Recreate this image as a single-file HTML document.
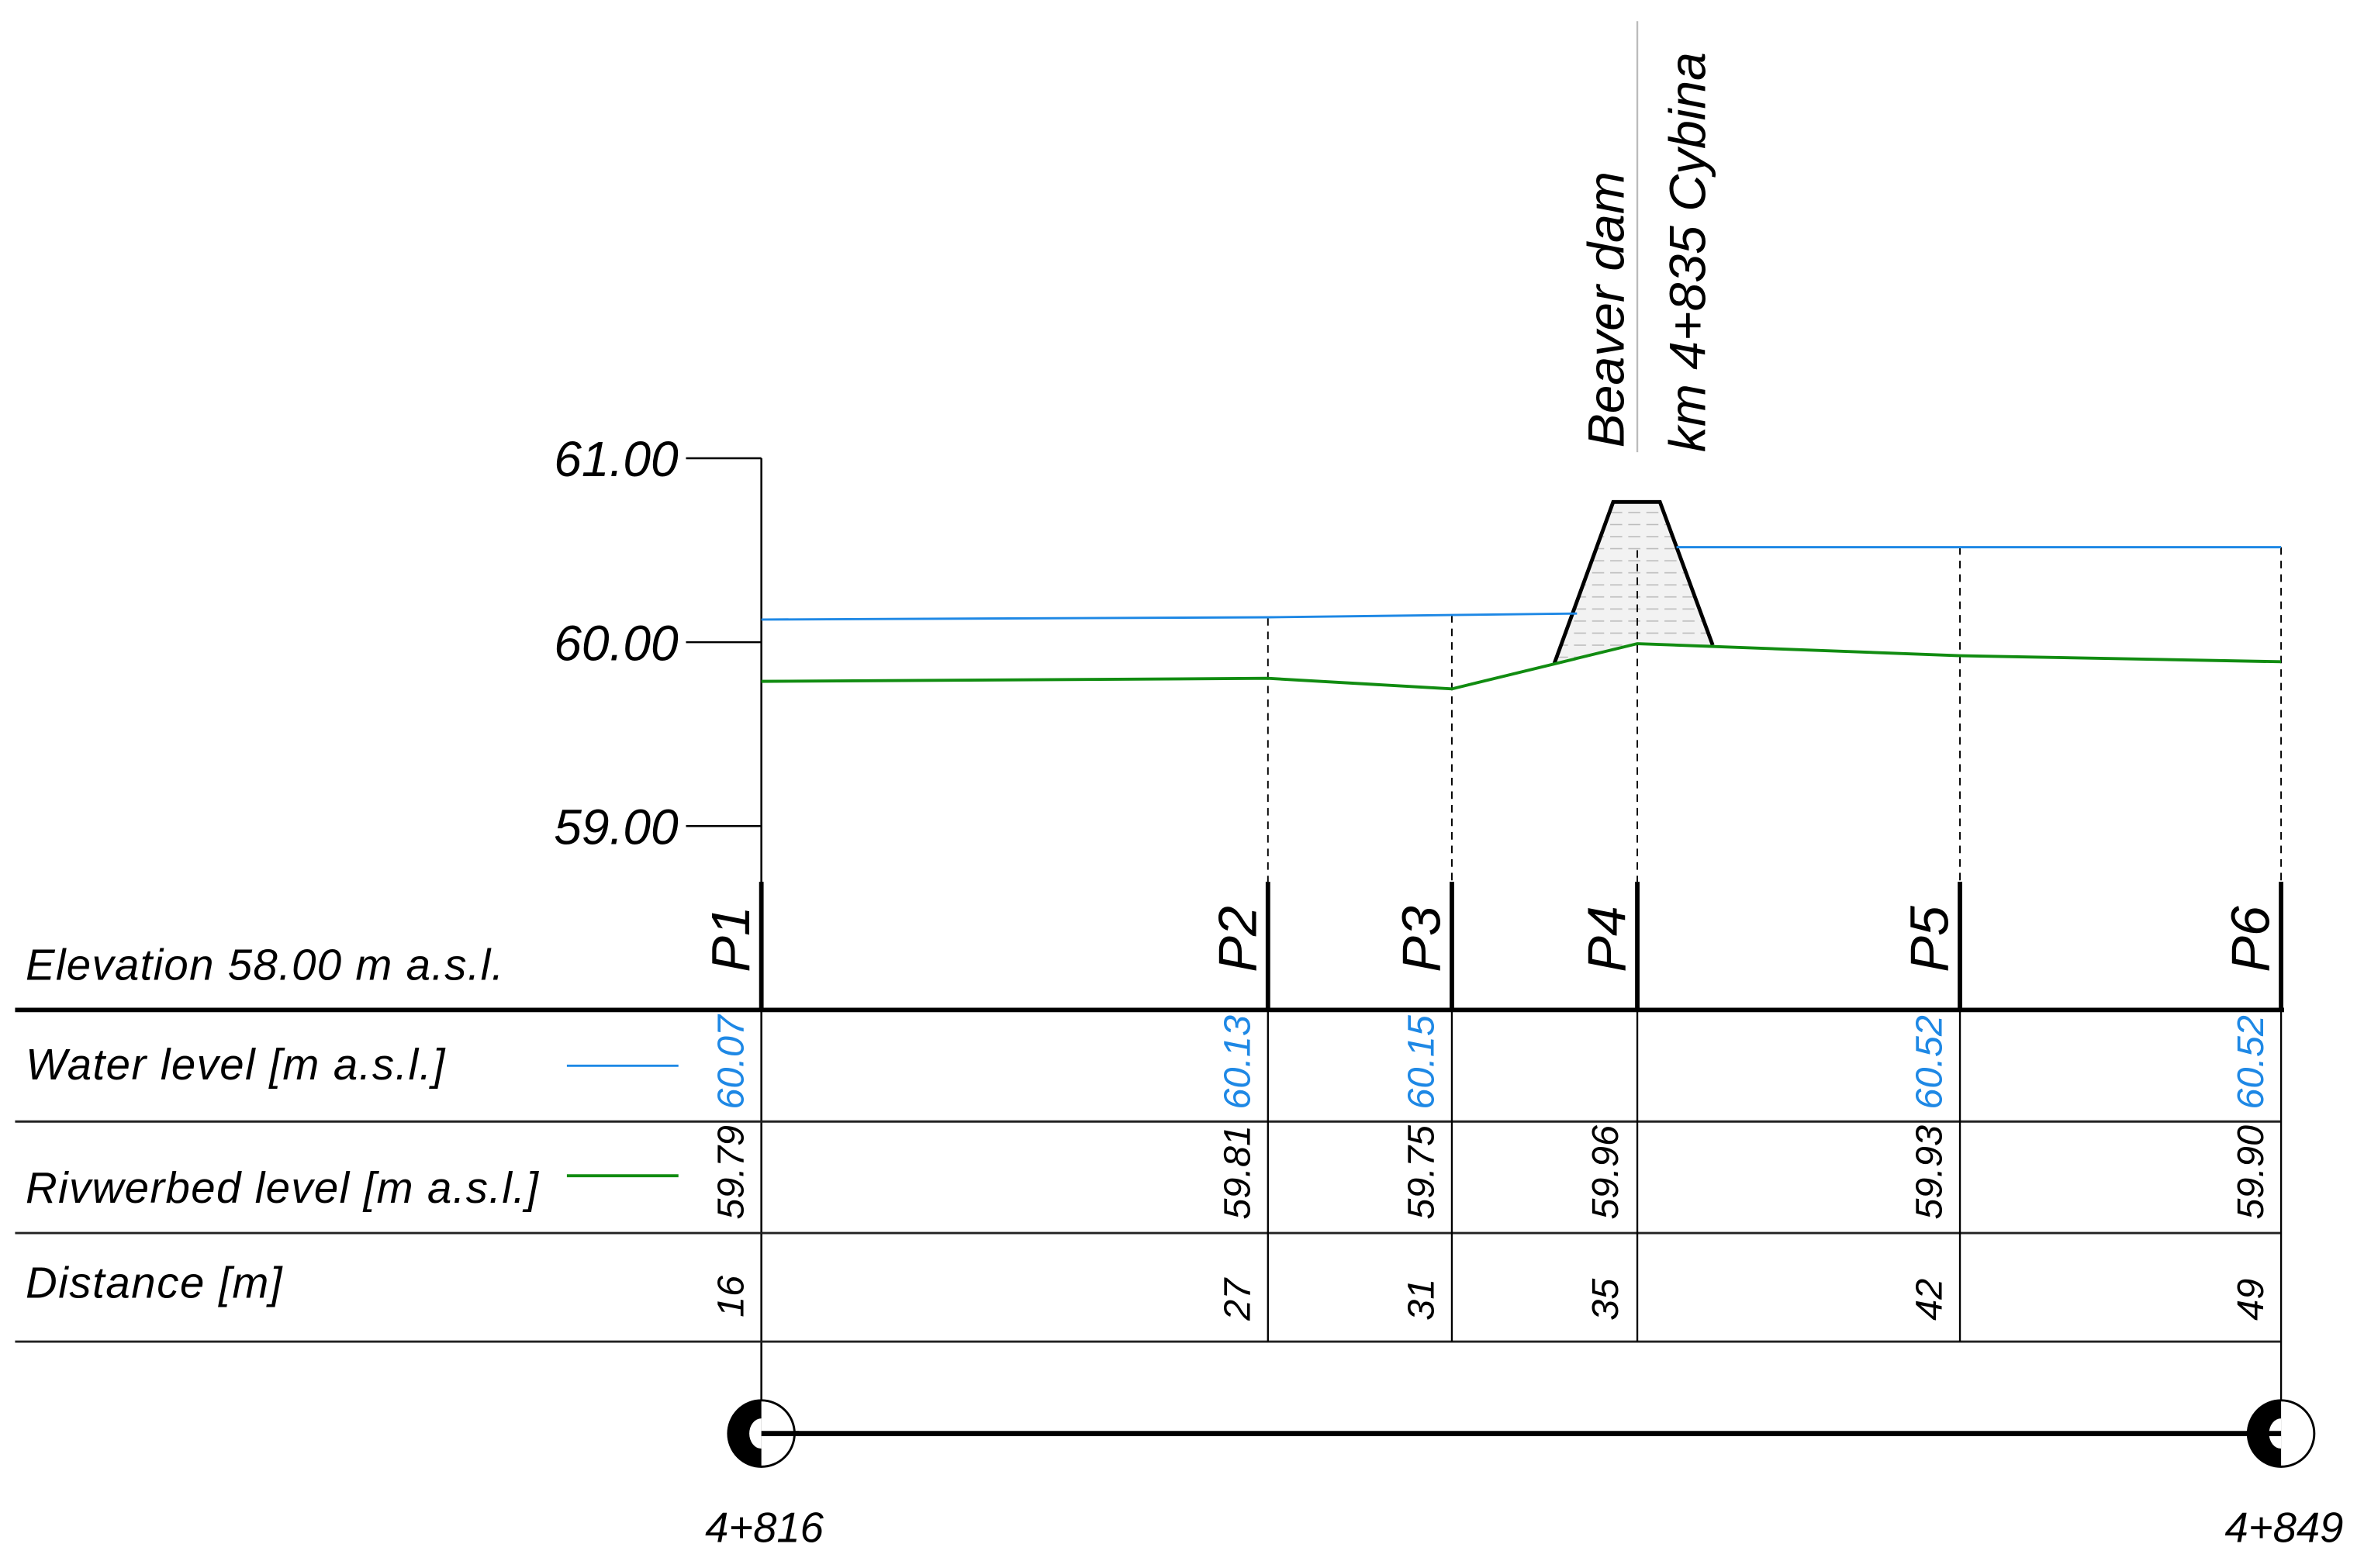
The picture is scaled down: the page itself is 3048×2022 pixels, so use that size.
<!DOCTYPE html>
<html><head><meta charset="utf-8"><style>
html,body{margin:0;padding:0;background:#fff;}
svg{display:block;}
text{font-family:"Liberation Sans",Arial,sans-serif;font-style:italic;}
</style></head><body>
<svg width="3048" height="2022" viewBox="0 0 1568 1040.2" preserveAspectRatio="none" xmlns="http://www.w3.org/2000/svg">
<defs>
<pattern id="hatch" width="12" height="8" patternUnits="userSpaceOnUse">
<rect width="12" height="8" fill="#f2f2f2"/>
<line x1="0" y1="4" x2="8" y2="4" stroke="#bbb" stroke-width="0.8"/>
</pattern>
</defs>
<rect width="1568" height="1040.2" fill="#fff"/>
<g stroke="#000" stroke-width="1.3">
<line x1="455" y1="304" x2="505" y2="304"/>
<line x1="455" y1="426" x2="505" y2="426"/>
<line x1="455" y1="548" x2="505" y2="548"/>
<line x1="505" y1="304" x2="505" y2="950"/>
</g>
<text x="450" y="316" font-size="33" text-anchor="end">61.00</text>
<text x="450" y="438" font-size="33" text-anchor="end">60.00</text>
<text x="450" y="560" font-size="33" text-anchor="end">59.00</text>
<line x1="1086" y1="14" x2="1086" y2="300" stroke="#bbb" stroke-width="1.2"/>
<text transform="translate(1077,297) rotate(-90)" font-size="34">Beaver dam</text>
<text transform="translate(1131,300) rotate(-90)" font-size="34">km 4+835 Cybina</text>
<polygon points="1031,440 1070,333 1101,333 1136,428 1086,427" fill="url(#hatch)" stroke="none"/>
<polyline points="1031,440 1070,333 1101,333 1136,428" fill="none" stroke="#000" stroke-width="2.5"/>
<g stroke="#000" stroke-width="1" stroke-dasharray="5,4">
<line x1="841" y1="410" x2="841" y2="585"/>
<line x1="963" y1="408" x2="963" y2="585"/>
<line x1="1086" y1="365" x2="1086" y2="585"/>
<line x1="1300" y1="363" x2="1300" y2="585"/>
<line x1="1513" y1="363" x2="1513" y2="585"/>
</g>
<polyline points="505,411 841,409.5 963,408 1046,407" fill="none" stroke="#1e88e5" stroke-width="1.5"/>
<polyline points="1112,363 1513,363" fill="none" stroke="#1e88e5" stroke-width="1.5"/>
<polyline points="505,452 841,450 963,457 1086,427 1300,435 1513,439" fill="none" stroke="#118c11" stroke-width="2"/>
<g stroke="#000" stroke-width="3">
<line x1="505" y1="585" x2="505" y2="670"/>
<line x1="841" y1="585" x2="841" y2="670"/>
<line x1="963" y1="585" x2="963" y2="670"/>
<line x1="1086" y1="585" x2="1086" y2="670"/>
<line x1="1300" y1="585" x2="1300" y2="670"/>
<line x1="1513" y1="585" x2="1513" y2="670"/>
<line x1="10" y1="670" x2="1515" y2="670"/>
</g>
<g stroke="#222" stroke-width="1.5">
<line x1="10" y1="744" x2="1513" y2="744"/>
<line x1="10" y1="818" x2="1513" y2="818"/>
<line x1="10" y1="890" x2="1513" y2="890"/>
</g>
<g stroke="#000" stroke-width="1.2">
<line x1="841" y1="670" x2="841" y2="890"/>
<line x1="963" y1="670" x2="963" y2="890"/>
<line x1="1086" y1="670" x2="1086" y2="890"/>
<line x1="1300" y1="670" x2="1300" y2="890"/>
<line x1="1513" y1="670" x2="1513" y2="950"/>
</g>
<text x="17" y="650" font-size="29" textLength="317">Elevation 58.00 m a.s.l.</text>
<text x="17" y="716" font-size="29" textLength="278">Water level [m a.s.l.]</text>
<text x="17" y="798" font-size="29" textLength="340">Rivwerbed level [m a.s.l.]</text>
<text x="17" y="861" font-size="29" textLength="170">Distance [m]</text>
<line x1="376" y1="707" x2="450" y2="707" stroke="#1e88e5" stroke-width="1.5"/>
<line x1="376" y1="780" x2="450" y2="780" stroke="#118c11" stroke-width="2"/>
<g font-size="36">
<text transform="translate(497,645) rotate(-90)">P1</text>
<text transform="translate(833,645) rotate(-90)">P2</text>
<text transform="translate(955,645) rotate(-90)">P3</text>
<text transform="translate(1078,645) rotate(-90)">P4</text>
<text transform="translate(1292,645) rotate(-90)">P5</text>
<text transform="translate(1505,645) rotate(-90)">P6</text>
</g>
<g font-size="25" fill="#1e88e5">
<text transform="translate(493,736) rotate(-90)">60.07</text>
<text transform="translate(829,736) rotate(-90)">60.13</text>
<text transform="translate(951,736) rotate(-90)">60.15</text>
<text transform="translate(1288,736) rotate(-90)">60.52</text>
<text transform="translate(1501,736) rotate(-90)">60.52</text>
</g>
<g font-size="25" fill="#000">
<text transform="translate(493,809) rotate(-90)">59.79</text>
<text transform="translate(829,809) rotate(-90)">59.81</text>
<text transform="translate(951,809) rotate(-90)">59.75</text>
<text transform="translate(1073,809) rotate(-90)">59.96</text>
<text transform="translate(1288,809) rotate(-90)">59.93</text>
<text transform="translate(1501,809) rotate(-90)">59.90</text>
<text transform="translate(493,874) rotate(-90)">16</text>
<text transform="translate(829,876) rotate(-90)">27</text>
<text transform="translate(951,876) rotate(-90)">31</text>
<text transform="translate(1073,876) rotate(-90)">35</text>
<text transform="translate(1288,876) rotate(-90)">42</text>
<text transform="translate(1501,876) rotate(-90)">49</text>
</g>
<line x1="505" y1="951" x2="1513" y2="951" stroke="#000" stroke-width="3.5"/>
<g>
<circle cx="505" cy="951" r="22" fill="#fff" stroke="#000" stroke-width="1.5"/>
<path d="M505,929 A22,22 0 0 0 505,973 Z" fill="#000"/>
<path d="M505,941 A8,10 0 0 0 505,961 Z" fill="#fff"/>
<circle cx="1513" cy="951" r="22" fill="#fff" stroke="#000" stroke-width="1.5"/>
<path d="M1513,929 A22,22 0 0 0 1513,973 Z" fill="#000"/>
<path d="M1513,941 A8,10 0 0 0 1513,961 Z" fill="#fff"/>
<line x1="505" y1="951" x2="530" y2="951" stroke="#000" stroke-width="3.5"/>
<line x1="1490" y1="951" x2="1513" y2="951" stroke="#000" stroke-width="3.5"/>
</g>
<text x="507" y="1023" font-size="28" text-anchor="middle">4+816</text>
<text x="1515" y="1023" font-size="28" text-anchor="middle">4+849</text>
</svg>
</body></html>
